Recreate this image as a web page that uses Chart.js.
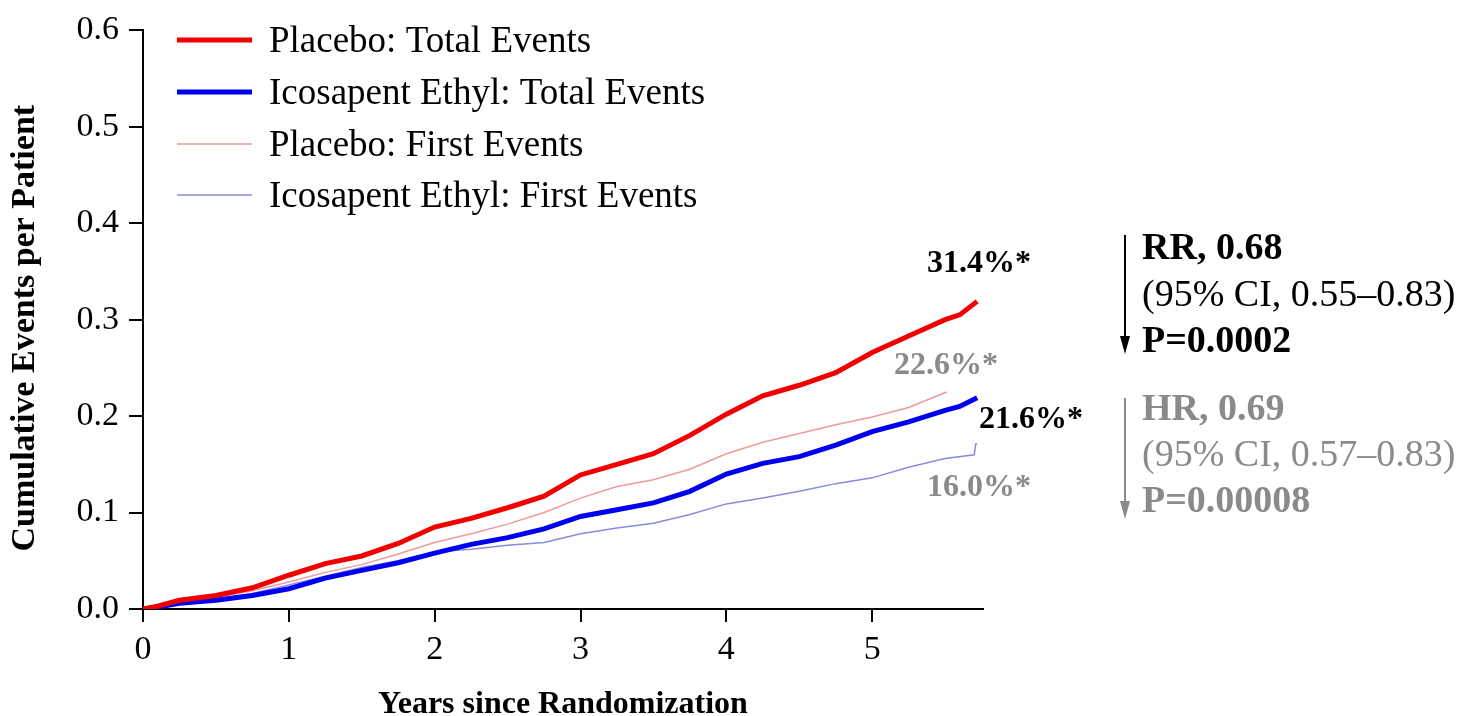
<!DOCTYPE html>
<html><head><meta charset="utf-8">
<script src="https://cdn.jsdelivr.net/npm/chart.js@4.4.1/dist/chart.umd.min.js"></script>
<style>html,body{margin:0;padding:0;background:#fff;}#wrap{width:1460px;height:716px;position:relative;}</style>
</head><body><div id="wrap"><canvas id="c" width="1460" height="716"></canvas></div>
<script>
// ---- data ----
const seriesLabels = ['Placebo: Total Events','Icosapent Ethyl: Total Events','Placebo: First Events','Icosapent Ethyl: First Events'];
const yearsTotal = [0,0.1,0.25,0.5,0.75,1,1.25,1.5,1.75,2,2.25,2.5,2.75,3,3.25,3.5,3.75,4,4.25,4.5,4.75,5,5.25,5.5,5.6,5.72];
const placeboTotal = [0,0.003,0.009,0.014,0.022,0.035,0.047,0.055,0.068,0.085,0.094,0.105,0.117,0.139,0.150,0.161,0.180,0.202,0.221,0.232,0.245,0.266,0.283,0.300,0.305,0.319];
const icosapentTotal = [0,0.002,0.006,0.009,0.014,0.021,0.032,0.040,0.048,0.058,0.067,0.074,0.083,0.096,0.103,0.110,0.122,0.140,0.151,0.158,0.170,0.184,0.194,0.206,0.210,0.219];
const yearsPlaceboFirst = [0,0.1,0.25,0.5,0.75,1,1.25,1.5,1.75,2,2.25,2.5,2.75,3,3.25,3.5,3.75,4,4.25,4.5,4.75,5,5.25,5.51];
const placeboFirst = [0,0.002,0.007,0.012,0.019,0.028,0.038,0.046,0.057,0.069,0.078,0.088,0.100,0.115,0.127,0.134,0.145,0.161,0.173,0.182,0.191,0.199,0.209,0.225];
const yearsIcosapentFirst = [0,0.1,0.25,0.5,0.75,1,1.25,1.5,1.75,2,2.25,2.5,2.75,3,3.25,3.5,3.75,4,4.25,4.5,4.75,5,5.25,5.5,5.70,5.71,5.72];
const icosapentFirst = [0,0.002,0.006,0.010,0.016,0.025,0.034,0.043,0.050,0.059,0.062,0.066,0.069,0.078,0.084,0.089,0.098,0.109,0.115,0.122,0.130,0.136,0.147,0.156,0.160,0.171,0.171];
const xTickLabels = ['0','1','2','3','4','5'];
const yTickLabels = ['0.0','0.1','0.2','0.3','0.4','0.5','0.6'];
const xTitle = 'Years since Randomization';
const yTitle = 'Cumulative Events per Patient\u2002';
const endLabels = ['31.4%*','22.6%*','21.6%*','16.0%*'];
const rrLines = ['RR, 0.68','(95% CI, 0.55\u20130.83)','P=0.0002'];
const hrLines = ['HR, 0.69','(95% CI, 0.57\u20130.83)','P=0.00008'];

const FONT = "'Liberation Serif','Times New Roman',serif";
const GRAY = '#8a8a8a';
const toPts = (xs, ys) => xs.map((x, i) => ({x, y: ys[i]}));

const overlay = {
  id: 'overlay',
  afterDraw(chart) {
    const ctx = chart.ctx;
    ctx.save();
    // legend
    const ly = [40, 92, 144, 195];
    chart.data.datasets.forEach((ds, i) => {
      ctx.strokeStyle = ds.borderColor;
      ctx.lineWidth = ds.borderWidth;
      ctx.beginPath(); ctx.moveTo(177, ly[i]); ctx.lineTo(252, ly[i]); ctx.stroke();
      ctx.fillStyle = '#000';
      ctx.font = `37px ${FONT}`;
      ctx.textBaseline = 'middle'; ctx.textAlign = 'left';
      ctx.fillText(ds.label, 269, ly[i] + 2);
    });
    // end labels
    ctx.font = `bold 32px ${FONT}`;
    const ep = [[927, 264, '#000'], [894, 366, GRAY], [979, 420, '#000'], [927, 488, GRAY]];
    endLabels.forEach((t, i) => { ctx.fillStyle = ep[i][2]; ctx.fillText(t, ep[i][0], ep[i][1]); });
    // arrows + stats
    const arrow = (x, y0, y1, col) => {
      ctx.strokeStyle = col; ctx.fillStyle = col; ctx.lineWidth = 2;
      ctx.beginPath(); ctx.moveTo(x, y0); ctx.lineTo(x, y1 - 14); ctx.stroke();
      ctx.beginPath(); ctx.moveTo(x - 5, y1 - 18); ctx.lineTo(x + 5, y1 - 18); ctx.lineTo(x, y1); ctx.closePath(); ctx.fill();
    };
    arrow(1125, 235, 354, '#000');
    arrow(1125, 398, 519, GRAY);
    const block = (lines, ys, col) => {
      lines.forEach((t, i) => {
        ctx.fillStyle = col;
        ctx.font = (i === 1 ? '' : 'bold ') + `38px ${FONT}`;
        ctx.fillText(t, 1142, ys[i]);
      });
    };
    block(rrLines, [249, 296, 342], '#000');
    block(hrLines, [410, 456, 502], GRAY);
    ctx.restore();
  }
};

new Chart(document.getElementById('c'), {
  type: 'line',
  data: {
    datasets: [
      {label: seriesLabels[0], data: toPts(yearsTotal, placeboTotal), borderColor: '#f20000', borderWidth: 5},
      {label: seriesLabels[1], data: toPts(yearsTotal, icosapentTotal), borderColor: '#0000f0', borderWidth: 5},
      {label: seriesLabels[2], data: toPts(yearsPlaceboFirst, placeboFirst), borderColor: '#ef9a9a', borderWidth: 1.5},
      {label: seriesLabels[3], data: toPts(yearsIcosapentFirst, icosapentFirst), borderColor: '#8a8ae0', borderWidth: 1.5}
    ].map(d => Object.assign(d, {pointRadius: 0, tension: 0, fill: false}))
  },
  options: {
    responsive: false, animation: false,
    layout: {padding: {left: 0, top: 24, right: 477, bottom: 0}},
    plugins: {legend: {display: false}, tooltip: {enabled: false}},
    scales: {
      x: {
        type: 'linear', min: 0, max: 5.76,
        ticks: {stepSize: 1, includeBounds: false, color: '#000', padding: 8,
          font: {family: FONT, size: 34}, callback: (v) => xTickLabels[Math.round(v)] ?? ''},
        grid: {drawOnChartArea: false, drawTicks: true, tickLength: 13, color: '#000', lineWidth: 2},
        border: {display: true, color: '#000', width: 2},
        title: {display: true, text: xTitle, color: '#000', font: {family: FONT, size: 32, weight: 'bold'}, padding: {top: 0, bottom: -8}},
        afterFit: (s) => { s.height = 107; }
      },
      y: {
        type: 'linear', min: 0, max: 0.6,
        ticks: {stepSize: 0.1, color: '#000', padding: 10,
          font: {family: FONT, size: 34}, callback: (v) => yTickLabels[Math.round(v * 10)] ?? ''},
        grid: {drawOnChartArea: false, drawTicks: true, tickLength: 14, color: '#000', lineWidth: 2},
        border: {display: true, color: '#000', width: 2},
        title: {display: true, text: yTitle, color: '#000', font: {family: FONT, size: 34, weight: 'bold'}, padding: {top: 5, bottom: 0}},
        afterFit: (s) => { s.width = 143; }
      }
    }
  },
  plugins: [overlay]
});
</script></body></html>
